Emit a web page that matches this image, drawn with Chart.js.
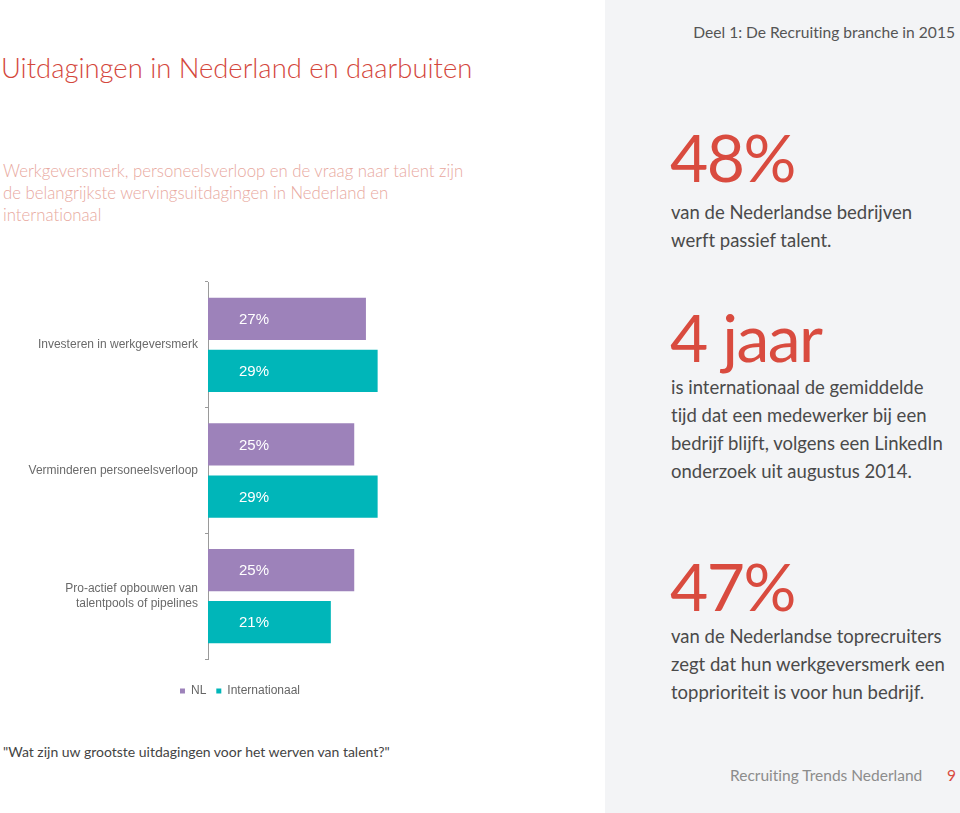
<!DOCTYPE html>
<html>
<head>
<meta charset="utf-8">
<script src="https://cdn.jsdelivr.net/npm/chart.js@4/dist/chart.umd.min.js"></script>
<style>
  html, body { margin: 0; padding: 0; background: #ffffff; }
  body { width: 960px; height: 813px; position: relative; overflow: hidden; font-family: Lato, "Open Sans", sans-serif; font-variant-ligatures: none; }
  .panel { position: absolute; left: 605px; top: 0; width: 355px; height: 813px; background: #F3F4F6; }
  .abs { position: absolute; white-space: nowrap; }
  #title { left: 1px; top: 51px; font-size: 27.4px; font-weight: 300; color: #D4473C; }
  #sub { left: 3px; top: 160px; font-size: 16.75px; line-height: 22px; font-weight: 300; color: #E8A89E; }
  #deel { right: 5px; top: 23px; font-size: 15.6px; color: #555; }
  .big { font-size: 66px; letter-spacing: -1.5px; color: #D94B3F; font-weight: 400; line-height: 1; }
  .body { font-size: 18.5px; line-height: 28px; color: #4A4A4A; }
  #q { left: 3px; top: 743px; font-size: 14px; color: #444; }
  #foot { left: 730px; top: 766px; font-size: 15.5px; color: #8C8C8C; }
  #page { left: 947px; top: 766px; font-size: 15.5px; color: #D94B3F; }
  #chartWrap { position: absolute; left: 0; top: 260px; width: 480px; height: 447px; }
</style>
</head>
<body>
<div class="panel"></div>
<div id="title" class="abs">Uitdagingen in Nederland en daarbuiten</div>
<div id="sub" class="abs">Werkgeversmerk, personeelsverloop en de vraag naar talent zijn<br>de belangrijkste wervingsuitdagingen in Nederland en<br>internationaal</div>
<div id="deel" class="abs">Deel 1: De Recruiting branche in 2015</div>

<div class="abs big" style="left:670px; top:124px;">48%</div>
<div class="abs body" style="left:671px; top:198px;">van de Nederlandse bedrijven<br>werft passief talent.</div>

<div class="abs big" style="left:670px; top:304px;">4 jaar</div>
<div class="abs body" style="left:671px; top:373px;">is internationaal de gemiddelde<br>tijd dat een medewerker bij een<br>bedrijf blijft, volgens een LinkedIn<br>onderzoek uit augustus 2014.</div>

<div class="abs big" style="left:670px; top:553px;">47%</div>
<div class="abs body" style="left:671px; top:622px;">van de Nederlandse toprecruiters<br>zegt dat hun werkgeversmerk een<br>topprioriteit is voor hun bedrijf.</div>

<div id="q" class="abs">"Wat zijn uw grootste uitdagingen voor het werven van talent?"</div>
<div id="foot" class="abs">Recruiting Trends Nederland</div>
<div id="page" class="abs">9</div>

<div id="chartWrap"><canvas id="c" width="480" height="447"></canvas></div>

<script>
const categories = [
  "Investeren in werkgeversmerk",
  "Verminderen personeelsverloop",
  ["Pro-actief opbouwen van", "talentpools of pipelines"]
];
const seriesNames = ["NL", "Internationaal"];
const nlValues = [27, 25, 25];
const intlValues = [29, 29, 21];
const seriesColors = ["#9D82BA", "#00B6B9"];

const valueLabels = {
  id: 'valueLabels',
  afterDatasetsDraw(chart) {
    const ctx = chart.ctx;
    ctx.save();
    ctx.fillStyle = '#ffffff';
    ctx.font = '15px "Liberation Sans", Arial, sans-serif';
    ctx.textAlign = 'center';
    ctx.textBaseline = 'middle';
    chart.data.datasets.forEach((ds, di) => {
      const meta = chart.getDatasetMeta(di);
      meta.data.forEach((el, i) => {
        ctx.fillText(ds.data[i] + '%', el.base + 46, el.y + 1);
      });
    });
    ctx.restore();
  }
};

new Chart(document.getElementById('c'), {
  type: 'bar',
  data: {
    labels: categories,
    datasets: [
      { label: seriesNames[0], data: nlValues, backgroundColor: seriesColors[0], barPercentage: 0.81, categoryPercentage: 0.83 },
      { label: seriesNames[1], data: intlValues, backgroundColor: seriesColors[1], barPercentage: 0.81, categoryPercentage: 0.83 }
    ]
  },
  options: {
    indexAxis: 'y',
    responsive: false,
    animation: false,
    devicePixelRatio: 1,
    layout: { padding: 0 },
    plugins: {
      tooltip: { enabled: false },
      legend: {
        position: 'bottom',
        labels: {
          boxWidth: 5, boxHeight: 5, padding: 10,
          color: '#666',
          font: { family: '"Liberation Sans", Arial, sans-serif', size: 12 }
        }
      }
    },
    scales: {
      x: {
        min: 0, max: 46.5,
        grid: { display: false },
        border: { display: false },
        ticks: { display: false },
        afterFit: s => { s.height = 16; }
      },
      y: {
        afterFit: s => { s.width = 208; },
        grid: { drawOnChartArea: false, tickLength: 3, color: '#9a9a9a' },
        border: { color: '#9a9a9a' },
        ticks: {
          padding: 7,
          color: '#6a6a6a',
          font: { family: '"Liberation Sans", Arial, sans-serif', size: 12, lineHeight: 1.25 }
        }
      }
    }
  },
  plugins: [valueLabels]
});
</script>
</body>
</html>
